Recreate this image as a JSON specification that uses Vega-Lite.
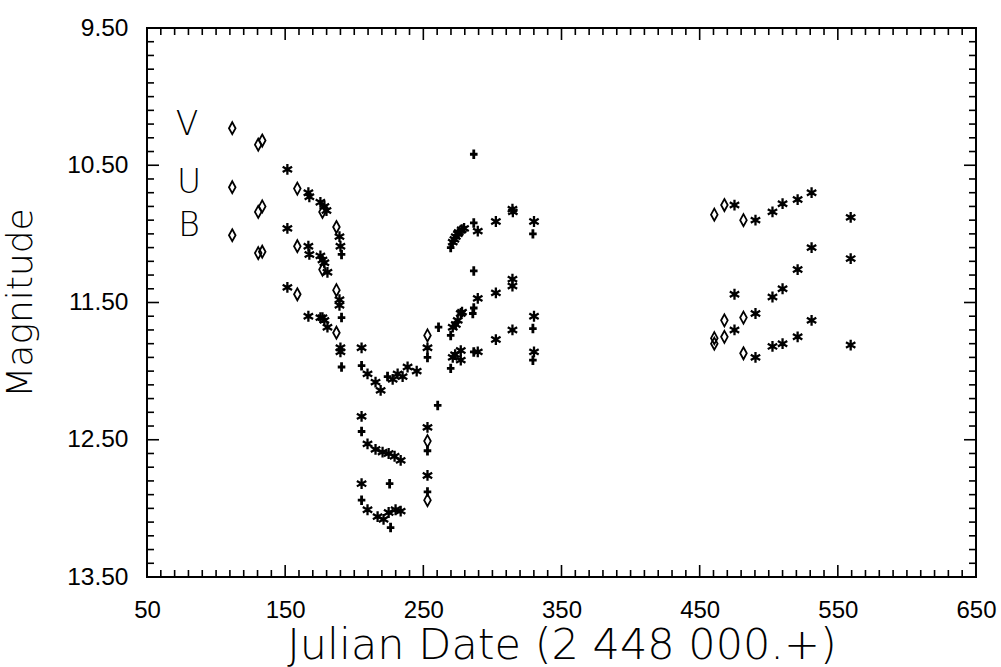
{
  "$schema": "https://vega.github.io/schema/vega-lite/v6.json",
  "width": 829,
  "height": 549,
  "autosize": {"type": "none"},
  "padding": {"left": 147, "top": 28, "right": 25, "bottom": 90},
  "background": "white",
  "config": {
    "view": {"stroke": "black", "strokeWidth": 2},
    "axis": {"grid": false, "domain": false, "ticks": false, "labelColor": "black", "titleColor": "black", "titleFontWeight": "normal", "labelFlush": false, "labelOverlap": false, "labelBound": false}
  },
  "datasets": {
    "points": [
      {"jd": 111.7, "mag": 10.23, "band": "V", "type": "diamond"},
      {"jd": 130.5, "mag": 10.35, "band": "V", "type": "diamond"},
      {"jd": 133.4, "mag": 10.32, "band": "V", "type": "diamond"},
      {"jd": 151.6, "mag": 10.53, "band": "V", "type": "asterisk"},
      {"jd": 158.8, "mag": 10.67, "band": "V", "type": "diamond"},
      {"jd": 166.8, "mag": 10.70, "band": "V", "type": "asterisk"},
      {"jd": 167.5, "mag": 10.73, "band": "V", "type": "asterisk"},
      {"jd": 175.5, "mag": 10.77, "band": "V", "type": "asterisk"},
      {"jd": 178.4, "mag": 10.80, "band": "V", "type": "asterisk"},
      {"jd": 179.9, "mag": 10.83, "band": "V", "type": "asterisk"},
      {"jd": 177.0, "mag": 10.84, "band": "V", "type": "diamond"},
      {"jd": 187.1, "mag": 10.95, "band": "V", "type": "diamond"},
      {"jd": 189.3, "mag": 11.02, "band": "V", "type": "asterisk"},
      {"jd": 190.0, "mag": 11.09, "band": "V", "type": "asterisk"},
      {"jd": 190.8, "mag": 11.15, "band": "V", "type": "plus"},
      {"jd": 205.3, "mag": 11.83, "band": "V", "type": "asterisk"},
      {"jd": 205.3, "mag": 11.96, "band": "V", "type": "plus"},
      {"jd": 209.6, "mag": 12.02, "band": "V", "type": "asterisk"},
      {"jd": 215.4, "mag": 12.08, "band": "V", "type": "asterisk"},
      {"jd": 219.1, "mag": 12.14, "band": "V", "type": "asterisk"},
      {"jd": 224.1, "mag": 12.04, "band": "V", "type": "plus"},
      {"jd": 227.8, "mag": 12.06, "band": "V", "type": "asterisk"},
      {"jd": 231.4, "mag": 12.02, "band": "V", "type": "asterisk"},
      {"jd": 235.0, "mag": 12.04, "band": "V", "type": "asterisk"},
      {"jd": 238.6, "mag": 11.97, "band": "V", "type": "asterisk"},
      {"jd": 245.2, "mag": 12.00, "band": "V", "type": "asterisk"},
      {"jd": 253.0, "mag": 11.74, "band": "V", "type": "diamond"},
      {"jd": 253.0, "mag": 11.83, "band": "V", "type": "asterisk"},
      {"jd": 253.0, "mag": 11.90, "band": "V", "type": "plus"},
      {"jd": 261.0, "mag": 11.68, "band": "V", "type": "plus"},
      {"jd": 269.8, "mag": 11.10, "band": "V", "type": "plus"},
      {"jd": 271.3, "mag": 11.06, "band": "V", "type": "asterisk"},
      {"jd": 272.5, "mag": 11.04, "band": "V", "type": "asterisk"},
      {"jd": 273.5, "mag": 11.02, "band": "V", "type": "asterisk"},
      {"jd": 275.0, "mag": 11.00, "band": "V", "type": "asterisk"},
      {"jd": 275.6, "mag": 10.99, "band": "V", "type": "asterisk"},
      {"jd": 277.8, "mag": 10.97, "band": "V", "type": "asterisk"},
      {"jd": 279.5, "mag": 10.96, "band": "V", "type": "asterisk"},
      {"jd": 286.5, "mag": 10.42, "band": "V", "type": "plus"},
      {"jd": 286.5, "mag": 10.92, "band": "V", "type": "plus"},
      {"jd": 289.4, "mag": 10.98, "band": "V", "type": "asterisk"},
      {"jd": 302.5, "mag": 10.91, "band": "V", "type": "asterisk"},
      {"jd": 314.5, "mag": 10.82, "band": "V", "type": "asterisk"},
      {"jd": 314.8, "mag": 10.84, "band": "V", "type": "asterisk"},
      {"jd": 330.1, "mag": 10.91, "band": "V", "type": "asterisk"},
      {"jd": 329.3, "mag": 11.00, "band": "V", "type": "plus"},
      {"jd": 286.5, "mag": 11.27, "band": "U", "type": "plus"},
      {"jd": 460.6, "mag": 10.86, "band": "V", "type": "diamond"},
      {"jd": 467.9, "mag": 10.79, "band": "V", "type": "diamond"},
      {"jd": 475.2, "mag": 10.79, "band": "V", "type": "asterisk"},
      {"jd": 481.7, "mag": 10.90, "band": "V", "type": "diamond"},
      {"jd": 490.4, "mag": 10.90, "band": "V", "type": "asterisk"},
      {"jd": 502.7, "mag": 10.84, "band": "V", "type": "asterisk"},
      {"jd": 510.0, "mag": 10.78, "band": "V", "type": "asterisk"},
      {"jd": 520.9, "mag": 10.75, "band": "V", "type": "asterisk"},
      {"jd": 531.0, "mag": 10.70, "band": "V", "type": "asterisk"},
      {"jd": 559.3, "mag": 10.88, "band": "V", "type": "asterisk"},
      {"jd": 111.7, "mag": 10.66, "band": "U", "type": "diamond"},
      {"jd": 130.5, "mag": 10.84, "band": "U", "type": "diamond"},
      {"jd": 133.4, "mag": 10.80, "band": "U", "type": "diamond"},
      {"jd": 151.6, "mag": 10.96, "band": "U", "type": "asterisk"},
      {"jd": 158.8, "mag": 11.09, "band": "U", "type": "diamond"},
      {"jd": 166.8, "mag": 11.09, "band": "U", "type": "asterisk"},
      {"jd": 167.5, "mag": 11.15, "band": "U", "type": "asterisk"},
      {"jd": 175.5, "mag": 11.16, "band": "U", "type": "asterisk"},
      {"jd": 177.0, "mag": 11.19, "band": "U", "type": "asterisk"},
      {"jd": 178.4, "mag": 11.21, "band": "U", "type": "asterisk"},
      {"jd": 177.0, "mag": 11.26, "band": "U", "type": "diamond"},
      {"jd": 180.6, "mag": 11.28, "band": "U", "type": "asterisk"},
      {"jd": 187.1, "mag": 11.41, "band": "U", "type": "diamond"},
      {"jd": 189.3, "mag": 11.48, "band": "U", "type": "asterisk"},
      {"jd": 189.3, "mag": 11.52, "band": "U", "type": "asterisk"},
      {"jd": 190.8, "mag": 11.61, "band": "U", "type": "plus"},
      {"jd": 205.3, "mag": 12.33, "band": "U", "type": "asterisk"},
      {"jd": 205.3, "mag": 12.44, "band": "U", "type": "plus"},
      {"jd": 209.6, "mag": 12.53, "band": "U", "type": "asterisk"},
      {"jd": 215.4, "mag": 12.57, "band": "U", "type": "asterisk"},
      {"jd": 220.5, "mag": 12.59, "band": "U", "type": "asterisk"},
      {"jd": 224.9, "mag": 12.60, "band": "U", "type": "asterisk"},
      {"jd": 225.6, "mag": 12.82, "band": "U", "type": "plus"},
      {"jd": 229.2, "mag": 12.62, "band": "U", "type": "asterisk"},
      {"jd": 233.6, "mag": 12.65, "band": "U", "type": "asterisk"},
      {"jd": 253.0, "mag": 12.41, "band": "U", "type": "asterisk"},
      {"jd": 253.0, "mag": 12.51, "band": "U", "type": "diamond"},
      {"jd": 253.0, "mag": 12.58, "band": "U", "type": "plus"},
      {"jd": 260.4, "mag": 12.25, "band": "U", "type": "plus"},
      {"jd": 269.8, "mag": 11.74, "band": "U", "type": "plus"},
      {"jd": 271.3, "mag": 11.68, "band": "U", "type": "asterisk"},
      {"jd": 273.5, "mag": 11.66, "band": "U", "type": "asterisk"},
      {"jd": 274.9, "mag": 11.63, "band": "U", "type": "asterisk"},
      {"jd": 277.1, "mag": 11.58, "band": "U", "type": "asterisk"},
      {"jd": 278.0, "mag": 11.57, "band": "U", "type": "asterisk"},
      {"jd": 286.5, "mag": 11.54, "band": "U", "type": "plus"},
      {"jd": 285.8, "mag": 11.58, "band": "U", "type": "plus"},
      {"jd": 289.4, "mag": 11.47, "band": "U", "type": "asterisk"},
      {"jd": 302.5, "mag": 11.43, "band": "U", "type": "asterisk"},
      {"jd": 314.5, "mag": 11.33, "band": "U", "type": "asterisk"},
      {"jd": 314.5, "mag": 11.38, "band": "U", "type": "asterisk"},
      {"jd": 330.1, "mag": 11.60, "band": "U", "type": "asterisk"},
      {"jd": 329.3, "mag": 11.69, "band": "U", "type": "plus"},
      {"jd": 475.2, "mag": 11.44, "band": "U", "type": "asterisk"},
      {"jd": 467.9, "mag": 11.63, "band": "U", "type": "diamond"},
      {"jd": 481.7, "mag": 11.61, "band": "U", "type": "diamond"},
      {"jd": 490.4, "mag": 11.58, "band": "U", "type": "asterisk"},
      {"jd": 502.7, "mag": 11.46, "band": "U", "type": "asterisk"},
      {"jd": 510.0, "mag": 11.40, "band": "U", "type": "asterisk"},
      {"jd": 520.9, "mag": 11.26, "band": "U", "type": "asterisk"},
      {"jd": 531.0, "mag": 11.10, "band": "U", "type": "asterisk"},
      {"jd": 559.3, "mag": 11.18, "band": "U", "type": "asterisk"},
      {"jd": 111.7, "mag": 11.01, "band": "B", "type": "diamond"},
      {"jd": 130.5, "mag": 11.14, "band": "B", "type": "diamond"},
      {"jd": 133.4, "mag": 11.13, "band": "B", "type": "diamond"},
      {"jd": 151.6, "mag": 11.39, "band": "B", "type": "asterisk"},
      {"jd": 158.8, "mag": 11.44, "band": "B", "type": "diamond"},
      {"jd": 166.8, "mag": 11.60, "band": "B", "type": "asterisk"},
      {"jd": 175.5, "mag": 11.61, "band": "B", "type": "asterisk"},
      {"jd": 177.0, "mag": 11.61, "band": "B", "type": "asterisk"},
      {"jd": 178.4, "mag": 11.63, "band": "B", "type": "asterisk"},
      {"jd": 180.6, "mag": 11.68, "band": "B", "type": "asterisk"},
      {"jd": 187.1, "mag": 11.72, "band": "B", "type": "diamond"},
      {"jd": 190.0, "mag": 11.83, "band": "B", "type": "asterisk"},
      {"jd": 190.0, "mag": 11.86, "band": "B", "type": "asterisk"},
      {"jd": 190.8, "mag": 11.97, "band": "B", "type": "plus"},
      {"jd": 205.3, "mag": 12.82, "band": "B", "type": "asterisk"},
      {"jd": 205.3, "mag": 12.94, "band": "B", "type": "plus"},
      {"jd": 209.6, "mag": 13.01, "band": "B", "type": "asterisk"},
      {"jd": 216.9, "mag": 13.06, "band": "B", "type": "asterisk"},
      {"jd": 221.2, "mag": 13.08, "band": "B", "type": "asterisk"},
      {"jd": 224.9, "mag": 13.03, "band": "B", "type": "asterisk"},
      {"jd": 226.3, "mag": 13.14, "band": "B", "type": "plus"},
      {"jd": 229.9, "mag": 13.01, "band": "B", "type": "asterisk"},
      {"jd": 233.6, "mag": 13.02, "band": "B", "type": "asterisk"},
      {"jd": 253.0, "mag": 12.76, "band": "B", "type": "asterisk"},
      {"jd": 253.0, "mag": 12.88, "band": "B", "type": "plus"},
      {"jd": 253.0, "mag": 12.94, "band": "B", "type": "diamond"},
      {"jd": 269.8, "mag": 11.98, "band": "B", "type": "plus"},
      {"jd": 271.3, "mag": 11.90, "band": "B", "type": "asterisk"},
      {"jd": 273.0, "mag": 11.88, "band": "B", "type": "asterisk"},
      {"jd": 277.1, "mag": 11.85, "band": "B", "type": "asterisk"},
      {"jd": 277.1, "mag": 11.92, "band": "B", "type": "asterisk"},
      {"jd": 286.5, "mag": 11.86, "band": "B", "type": "plus"},
      {"jd": 289.4, "mag": 11.86, "band": "B", "type": "asterisk"},
      {"jd": 302.5, "mag": 11.77, "band": "B", "type": "asterisk"},
      {"jd": 314.5, "mag": 11.70, "band": "B", "type": "asterisk"},
      {"jd": 330.1, "mag": 11.86, "band": "B", "type": "asterisk"},
      {"jd": 329.3, "mag": 11.92, "band": "B", "type": "plus"},
      {"jd": 460.6, "mag": 11.76, "band": "B", "type": "diamond"},
      {"jd": 460.6, "mag": 11.80, "band": "B", "type": "diamond"},
      {"jd": 467.9, "mag": 11.75, "band": "B", "type": "diamond"},
      {"jd": 475.2, "mag": 11.70, "band": "B", "type": "asterisk"},
      {"jd": 481.7, "mag": 11.87, "band": "B", "type": "diamond"},
      {"jd": 490.4, "mag": 11.90, "band": "B", "type": "asterisk"},
      {"jd": 502.7, "mag": 11.82, "band": "B", "type": "asterisk"},
      {"jd": 510.0, "mag": 11.80, "band": "B", "type": "asterisk"},
      {"jd": 520.9, "mag": 11.75, "band": "B", "type": "asterisk"},
      {"jd": 531.0, "mag": 11.63, "band": "B", "type": "asterisk"},
      {"jd": 559.3, "mag": 11.81, "band": "B", "type": "asterisk"}
    ],
    "labels": [
      {"jd": 79.0, "mag": 10.21, "label": "V"},
      {"jd": 80.5, "mag": 10.63, "label": "U"},
      {"jd": 80.5, "mag": 10.94, "label": "B"}
    ],
    "xmaj": [{"v": 50}, {"v": 150}, {"v": 250}, {"v": 350}, {"v": 450}, {"v": 550}, {"v": 650}],
    "xmin": [{"v":60},{"v":70},{"v":80},{"v":90},{"v":100},{"v":110},{"v":120},{"v":130},{"v":140},{"v":160},{"v":170},{"v":180},{"v":190},{"v":200},{"v":210},{"v":220},{"v":230},{"v":240},{"v":260},{"v":270},{"v":280},{"v":290},{"v":300},{"v":310},{"v":320},{"v":330},{"v":340},{"v":360},{"v":370},{"v":380},{"v":390},{"v":400},{"v":410},{"v":420},{"v":430},{"v":440},{"v":460},{"v":470},{"v":480},{"v":490},{"v":500},{"v":510},{"v":520},{"v":530},{"v":540},{"v":560},{"v":570},{"v":580},{"v":590},{"v":600},{"v":610},{"v":620},{"v":630},{"v":640}],
    "ymaj": [{"v": 9.5}, {"v": 10.5}, {"v": 11.5}, {"v": 12.5}, {"v": 13.5}],
    "ymin": [{"v":9.6},{"v":9.7},{"v":9.8},{"v":9.9},{"v":10.0},{"v":10.1},{"v":10.2},{"v":10.3},{"v":10.4},{"v":10.6},{"v":10.7},{"v":10.8},{"v":10.9},{"v":11.0},{"v":11.1},{"v":11.2},{"v":11.3},{"v":11.4},{"v":11.6},{"v":11.7},{"v":11.8},{"v":11.9},{"v":12.0},{"v":12.1},{"v":12.2},{"v":12.3},{"v":12.4},{"v":12.6},{"v":12.7},{"v":12.8},{"v":12.9},{"v":13.0},{"v":13.1},{"v":13.2},{"v":13.3},{"v":13.4}]
  },
  "layer": [
    {
      "data": {"name": "points"},
      "mark": {"type": "point", "filled": false, "stroke": "black", "opacity": 1},
      "encoding": {
        "x": {
          "field": "jd", "type": "quantitative",
          "scale": {"domain": [50, 650], "nice": false, "zero": false},
          "axis": {
            "orient": "bottom",
            "values": [50, 150, 250, 350, 450, 550, 650],
            "labelPadding": 21,
            "labelFont": "Liberation Sans",
            "labelFontSize": 24,
            "title": "Julian Date (2 448 000.+)",
            "titleFont": "DejaVu Sans",
            "titleFontWeight": 200,
            "titleFontSize": 43,
            "titlePadding": 2
          }
        },
        "y": {
          "field": "mag", "type": "quantitative",
          "scale": {"domain": [9.5, 13.5], "reverse": true, "nice": false, "zero": false},
          "axis": {
            "orient": "left",
            "values": [9.5, 10.5, 11.5, 12.5, 13.5],
            "format": ".2f",
            "labelPadding": 19,
            "labelFont": "Liberation Sans",
            "labelFontSize": 24.5,
            "title": "Magnitude",
            "titleFont": "DejaVu Sans",
            "titleFontWeight": 200,
            "titleFontSize": 36,
            "titlePadding": 27
          }
        },
        "shape": {
          "field": "type", "type": "nominal",
          "scale": {"domain": ["diamond", "asterisk", "plus"], "range": ["M0,-1L0.55,0L0,1L-0.55,0Z", "M0,-1L0,1M-0.87,-0.5L0.87,0.5M-0.87,0.5L0.87,-0.5", "M-0.8,0L0.8,0M0,-1L0,1"]},
          "legend": null
        },
        "size": {
          "field": "type", "type": "ordinal",
          "scale": {"domain": ["diamond", "asterisk", "plus"], "range": [144, 90, 121]},
          "legend": null
        },
        "strokeWidth": {
          "field": "type", "type": "ordinal",
          "scale": {"domain": ["diamond", "asterisk", "plus"], "range": [1.8, 2.8, 2.2]},
          "legend": null
        }
      }
    },
    {
      "data": {"name": "labels"},
      "mark": {"type": "text", "font": "DejaVu Sans", "fontWeight": 200, "fontSize": 33, "align": "center", "baseline": "middle", "color": "black"},
      "encoding": {
        "x": {"field": "jd", "type": "quantitative", "axis": null},
        "y": {"field": "mag", "type": "quantitative", "axis": null},
        "text": {"field": "label", "type": "nominal"}
      }
    },
    {
      "data": {"name": "xmaj"},
      "mark": {"type": "rule", "color": "black", "strokeWidth": 1.6},
      "encoding": {
        "x": {"field": "v", "type": "quantitative", "axis": null},
        "y": {"datum": 13.5, "type": "quantitative", "axis": null},
        "y2": {"datum": 13.4126}
      }
    },
    {
      "data": {"name": "xmaj"},
      "mark": {"type": "rule", "color": "black", "strokeWidth": 1.6},
      "encoding": {
        "x": {"field": "v", "type": "quantitative", "axis": null},
        "y": {"datum": 9.5, "type": "quantitative", "axis": null},
        "y2": {"datum": 9.5874}
      }
    },
    {
      "data": {"name": "xmin"},
      "mark": {"type": "rule", "color": "black", "strokeWidth": 1.6},
      "encoding": {
        "x": {"field": "v", "type": "quantitative", "axis": null},
        "y": {"datum": 13.5, "type": "quantitative", "axis": null},
        "y2": {"datum": 13.449}
      }
    },
    {
      "data": {"name": "xmin"},
      "mark": {"type": "rule", "color": "black", "strokeWidth": 1.6},
      "encoding": {
        "x": {"field": "v", "type": "quantitative", "axis": null},
        "y": {"datum": 9.5, "type": "quantitative", "axis": null},
        "y2": {"datum": 9.551}
      }
    },
    {
      "data": {"name": "ymaj"},
      "mark": {"type": "rule", "color": "black", "strokeWidth": 1.6},
      "encoding": {
        "y": {"field": "v", "type": "quantitative", "axis": null},
        "x": {"datum": 50, "type": "quantitative", "axis": null},
        "x2": {"datum": 58.69}
      }
    },
    {
      "data": {"name": "ymaj"},
      "mark": {"type": "rule", "color": "black", "strokeWidth": 1.6},
      "encoding": {
        "y": {"field": "v", "type": "quantitative", "axis": null},
        "x": {"datum": 650, "type": "quantitative", "axis": null},
        "x2": {"datum": 641.31}
      }
    },
    {
      "data": {"name": "ymin"},
      "mark": {"type": "rule", "color": "black", "strokeWidth": 1.6},
      "encoding": {
        "y": {"field": "v", "type": "quantitative", "axis": null},
        "x": {"datum": 50, "type": "quantitative", "axis": null},
        "x2": {"datum": 55.07}
      }
    },
    {
      "data": {"name": "ymin"},
      "mark": {"type": "rule", "color": "black", "strokeWidth": 1.6},
      "encoding": {
        "y": {"field": "v", "type": "quantitative", "axis": null},
        "x": {"datum": 650, "type": "quantitative", "axis": null},
        "x2": {"datum": 644.93}
      }
    }
  ],
  "resolve": {"axis": {"x": "independent", "y": "independent"}}
}
